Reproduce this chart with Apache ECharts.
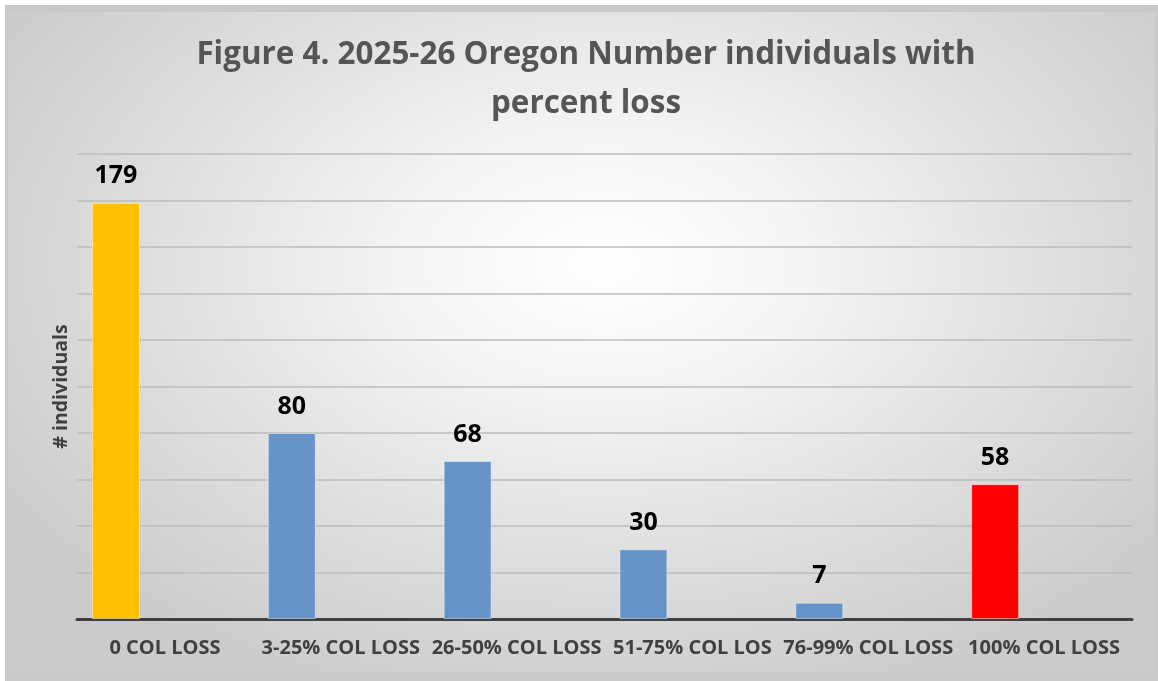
<!DOCTYPE html>
<html>
<head>
<meta charset="utf-8">
<script src="https://cdn.jsdelivr.net/npm/echarts@6/dist/echarts.min.js"></script>
<style>
html,body{margin:0;padding:0;background:#ffffff;}
#frame{position:absolute;left:5px;top:5px;width:1153px;height:676px;background:#c9c9c9;}
#bg{position:absolute;left:8px;top:12px;width:1147px;height:660px;
background:radial-gradient(ellipse 62% 70% at 52% 38%, #ffffff 0%, #f3f3f3 30%, #dedede 65%, #cbcbcb 100%);}
#chart{position:absolute;left:0;top:0;width:1158px;height:681px;}
</style>
</head>
<body>
<div id="frame"></div>
<div id="bg"></div>
<div id="chart"></div>
<script>
const titleText = 'Figure 4. 2025-26 Oregon Number individuals with\npercent loss';
const categories = ['0 COL LOSS', '3-25% COL LOSS', '26-50% COL LOSS', '51-75% COL LOS', '76-99% COL LOSS', '100% COL LOSS'];
const values = [179, 80, 68, 30, 7, 58];
const barColors = ['#FFC000', '#6794C8', '#6794C8', '#6794C8', '#6794C8', '#FF0000'];
const yAxisName = '# individuals';
const yMin = 0, yMax = 200, yInterval = 20;

const chart = echarts.init(document.getElementById('chart'), null, {renderer: 'canvas'});
const font = '"Open Sans", "Liberation Sans", sans-serif';
chart.setOption({
  backgroundColor: 'transparent',
  animation: false,
  title: {
    text: titleText,
    left: 581,
    textAlign: 'center',
    top: 26,
    textStyle: {
      fontFamily: font,
      fontSize: 31.4, fontWeight: 'bold', color: '#555555', lineHeight: 49
    }
  },
  grid: {left: 77, right: 26, top: 154, bottom: 62},
  xAxis: {
    type: 'category',
    data: categories,
    axisLine: {show: true, lineStyle: {color: '#404040', width: 3}},
    axisTick: {show: false},
    axisLabel: {
      interval: 0, margin: 19,
      fontFamily: font, fontSize: 20, fontWeight: 'bold', color: '#404040'
    }
  },
  yAxis: {
    type: 'value',
    min: yMin, max: yMax, interval: yInterval,
    name: yAxisName,
    nameLocation: 'middle',
    nameGap: 6,
    nameTextStyle: {fontFamily: font, fontSize: 19.5, fontWeight: 'bold', color: '#404040'},
    axisLine: {show: false},
    axisTick: {show: false},
    axisLabel: {show: false},
    splitLine: {lineStyle: {color: '#bdbdbd', width: 1.5}}
  },
  series: [
    {
      type: 'bar',
      barWidth: 48,
      barGap: '104%',
      data: values.map((v, i) => ({
        value: v,
        itemStyle: {color: barColors[i], borderColor: 'rgba(255,255,255,0.45)', borderWidth: 1}
      })),
      label: {
        show: true, position: 'top', distance: 14,
        fontFamily: font, fontSize: 25, fontWeight: 'bold', color: '#000000'
      }
    },
    {
      type: 'bar',
      barWidth: 48,
      data: categories.map(() => '-')
    }
  ]
});
</script>
</body>
</html>
